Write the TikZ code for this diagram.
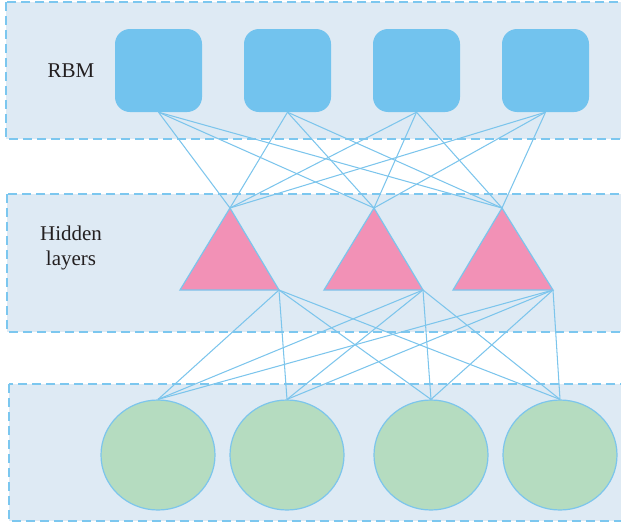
\documentclass[tikz,border=0pt]{standalone}
\usepackage{fontspec}
\setmainfont{Liberation Serif}
\usetikzlibrary{shapes.geometric}
\definecolor{bandfill}{HTML}{DEEAF4}
\definecolor{bandline}{HTML}{7CC7EF}
\definecolor{boxfill}{HTML}{72C3EE}
\definecolor{trifill}{HTML}{F291B6}
\definecolor{ballfill}{HTML}{B5DCC0}
\definecolor{wire}{HTML}{7CC5EC}
\definecolor{labeltext}{HTML}{231F20}
\tikzset{
  band/.style={fill=bandfill, draw=bandline, line width=1.4pt, dash pattern=on 9pt off 5pt},
  unitbox/.style={rectangle, rounded corners=15pt, fill=boxfill, draw=none,
    minimum width=87pt, minimum height=83pt, inner sep=0pt},
  hiddentri/.style={fill=trifill, draw=wire, line width=1.2pt, line join=miter},
  ball/.style={ellipse, fill=ballfill, draw=wire, line width=1.2pt,
    minimum width=114pt, minimum height=110pt, inner sep=0pt},
  link/.style={draw=wire, line width=1.05pt},
  caption/.style={font=\fontsize{21}{25}\selectfont, text=labeltext, align=center}
}
\begin{document}
\begin{tikzpicture}[x=1pt, y=-1pt]
  \useasboundingbox (0,0) rectangle (621,525);
  % three layer bands
  \path[band] (6,2) rectangle (630,139);
  \path[band] (7,194) rectangle (630,332);
  \path[band] (9,384) rectangle (630,521);

  % layer captions
  \node[caption, anchor=base] (rbm) at (71,77) {RBM};
  \node[caption] (hid) at (71,248) {Hidden\\layers};

  % visible units (rounded squares)
  \foreach \i/\x in {1/158.5, 2/287.5, 3/416.5, 4/545.5}
    \node[unitbox] (s\i) at (\x,70.5) {};

  % hidden units (triangles): apex, left and right base corners
  \foreach \i/\x/\l/\r in {1/230/180/279, 2/374/324/423, 3/502/453/553} {
    \coordinate (t\i) at (\x,208);
    \coordinate (t\i l) at (\l,290);
    \coordinate (t\i r) at (\r,290);
  }

  % output units (circles)
  \foreach \i/\x in {1/158, 2/287, 3/431, 4/560}
    \node[ball] (c\i) at (\x,455) {};

  % connections between layers
  \foreach \i in {1,...,4}
    \foreach \j in {1,2,3}
      \draw[link] (s\i.south) -- (t\j);
  \foreach \j in {1,2,3}
    \foreach \k in {1,...,4}
      \draw[link] (t\j r) -- (c\k.north);

  % triangles drawn over the wires
  \foreach \i in {1,2,3}
    \path[hiddentri] (t\i) -- (t\i l) -- (t\i r) -- cycle;
\end{tikzpicture}
\end{document}
